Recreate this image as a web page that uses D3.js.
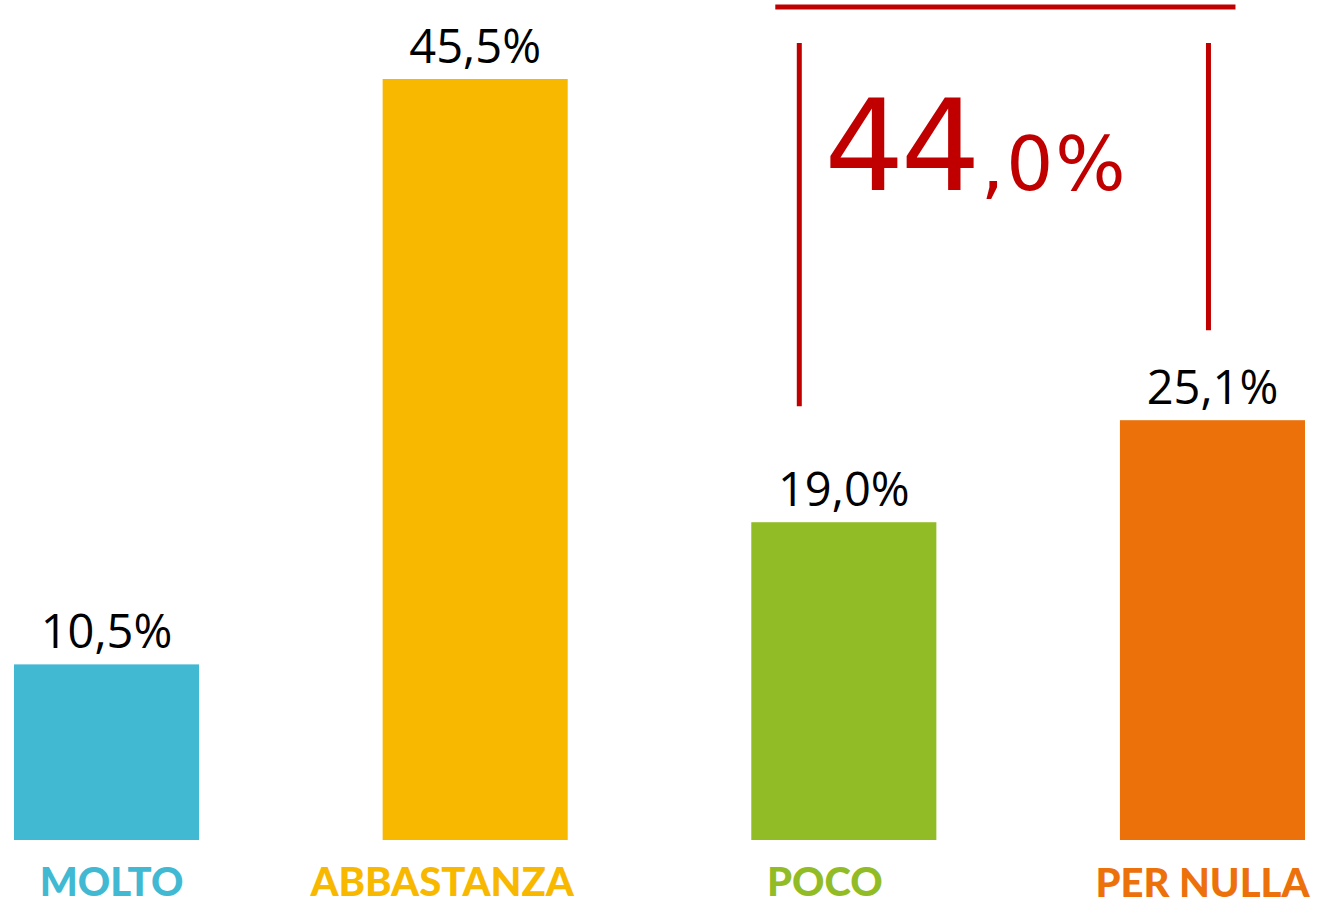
<!DOCTYPE html>
<html>
<head>
<meta charset="utf-8">
<script src="https://cdn.jsdelivr.net/npm/d3@7"></script>
<style>
  html, body { margin: 0; padding: 0; background: #fff; }
  svg { display: block; }
</style>
</head>
<body>
<div id="container"></div>
<script>
// data
const categories = ["MOLTO", "ABBASTANZA", "POCO", "PER NULLA"];
const values = [10.5, 45.5, 19.0, 25.1];
const valueLabels = ["10,5%", "45,5%", "19,0%", "25,1%"];
const barColors = ["#41B9D3", "#F9B800", "#92BC25", "#EC710B"];
const bracketCategories = ["POCO", "PER NULLA"];
const bracketLabelBig = "44";
const bracketLabelSmall = ",0%";

// layout
const W = 1317, H = 906;
const labelShift = [5, -33, -19, -10];   // category labels are not quite centred
const labelDrop = [0, 0, 0, 1];

const svg = d3.select("#container").append("svg")
    .attr("width", W)
    .attr("height", H);

const x = d3.scaleBand()
    .domain(categories)
    .range([14, 1305])
    .paddingInner(0.498)
    .paddingOuter(0);

const y = d3.scaleLinear()
    .domain([0, 45.5])
    .range([840, 79]);

const data = categories.map((c, i) => ({
    cat: c, value: values[i], label: valueLabels[i], color: barColors[i], i: i
}));

svg.selectAll("rect.bar")
    .data(data)
  .enter().append("rect")
    .attr("class", "bar")
    .attr("x", d => x(d.cat))
    .attr("y", d => y(d.value))
    .attr("width", x.bandwidth())
    .attr("height", d => y(0) - y(d.value))
    .style("fill", d => d.color);

svg.selectAll("text.value")
    .data(data)
  .enter().append("text")
    .attr("class", "value")
    .attr("x", d => x(d.cat) + x.bandwidth() / 2)
    .attr("y", d => y(d.value) - 16)
    .attr("text-anchor", "middle")
    .style("font-family", "'Open Sans', sans-serif")
    .style("font-size", "47px")
    .style("fill", "#000")
    .text(d => d.label);

svg.selectAll("text.cat")
    .data(data)
  .enter().append("text")
    .attr("class", "cat")
    .attr("x", d => x(d.cat) + x.bandwidth() / 2 + labelShift[d.i])
    .attr("y", d => 896 + labelDrop[d.i])
    .attr("text-anchor", "middle")
    .style("font-family", "Lato, sans-serif")
    .style("font-weight", "900")
    .style("font-size", "40px")
    .style("fill", d => d.color)
    .text(d => d.cat);

// bracket over POCO + PER NULLA
const red = "#C00000";
const b0 = bracketCategories[0], b1 = bracketCategories[1];
const v0 = values[categories.indexOf(b0)], v1 = values[categories.indexOf(b1)];
const leftX = x(b0) + 48;
const rightX = x(b1) + x.bandwidth() / 2 - 4;
const ann = svg.append("g");

ann.append("line")
    .attr("x1", leftX - 24).attr("x2", rightX + 27)
    .attr("y1", 7).attr("y2", 7)
    .style("stroke", red).style("stroke-width", 5);

ann.append("line")
    .attr("x1", leftX).attr("x2", leftX)
    .attr("y1", 43).attr("y2", y(v0) - 116)
    .style("stroke", red).style("stroke-width", 5);

ann.append("line")
    .attr("x1", rightX).attr("x2", rightX)
    .attr("y1", 43).attr("y2", y(v1) - 90)
    .style("stroke", red).style("stroke-width", 5);

const t = ann.append("text")
    .attr("x", leftX + 25)
    .attr("y", 190)
    .style("font-family", "'DejaVu Sans', sans-serif")
    .style("fill", red);

t.append("tspan")
    .style("font-size", "126px")
    .attr("letter-spacing", "-4")
    .text(bracketLabelBig);

t.append("tspan")
    .style("font-size", "74px")
    .attr("dx", 4)
    .attr("letter-spacing", "2")
    .text(bracketLabelSmall);
</script>
</body>
</html>
